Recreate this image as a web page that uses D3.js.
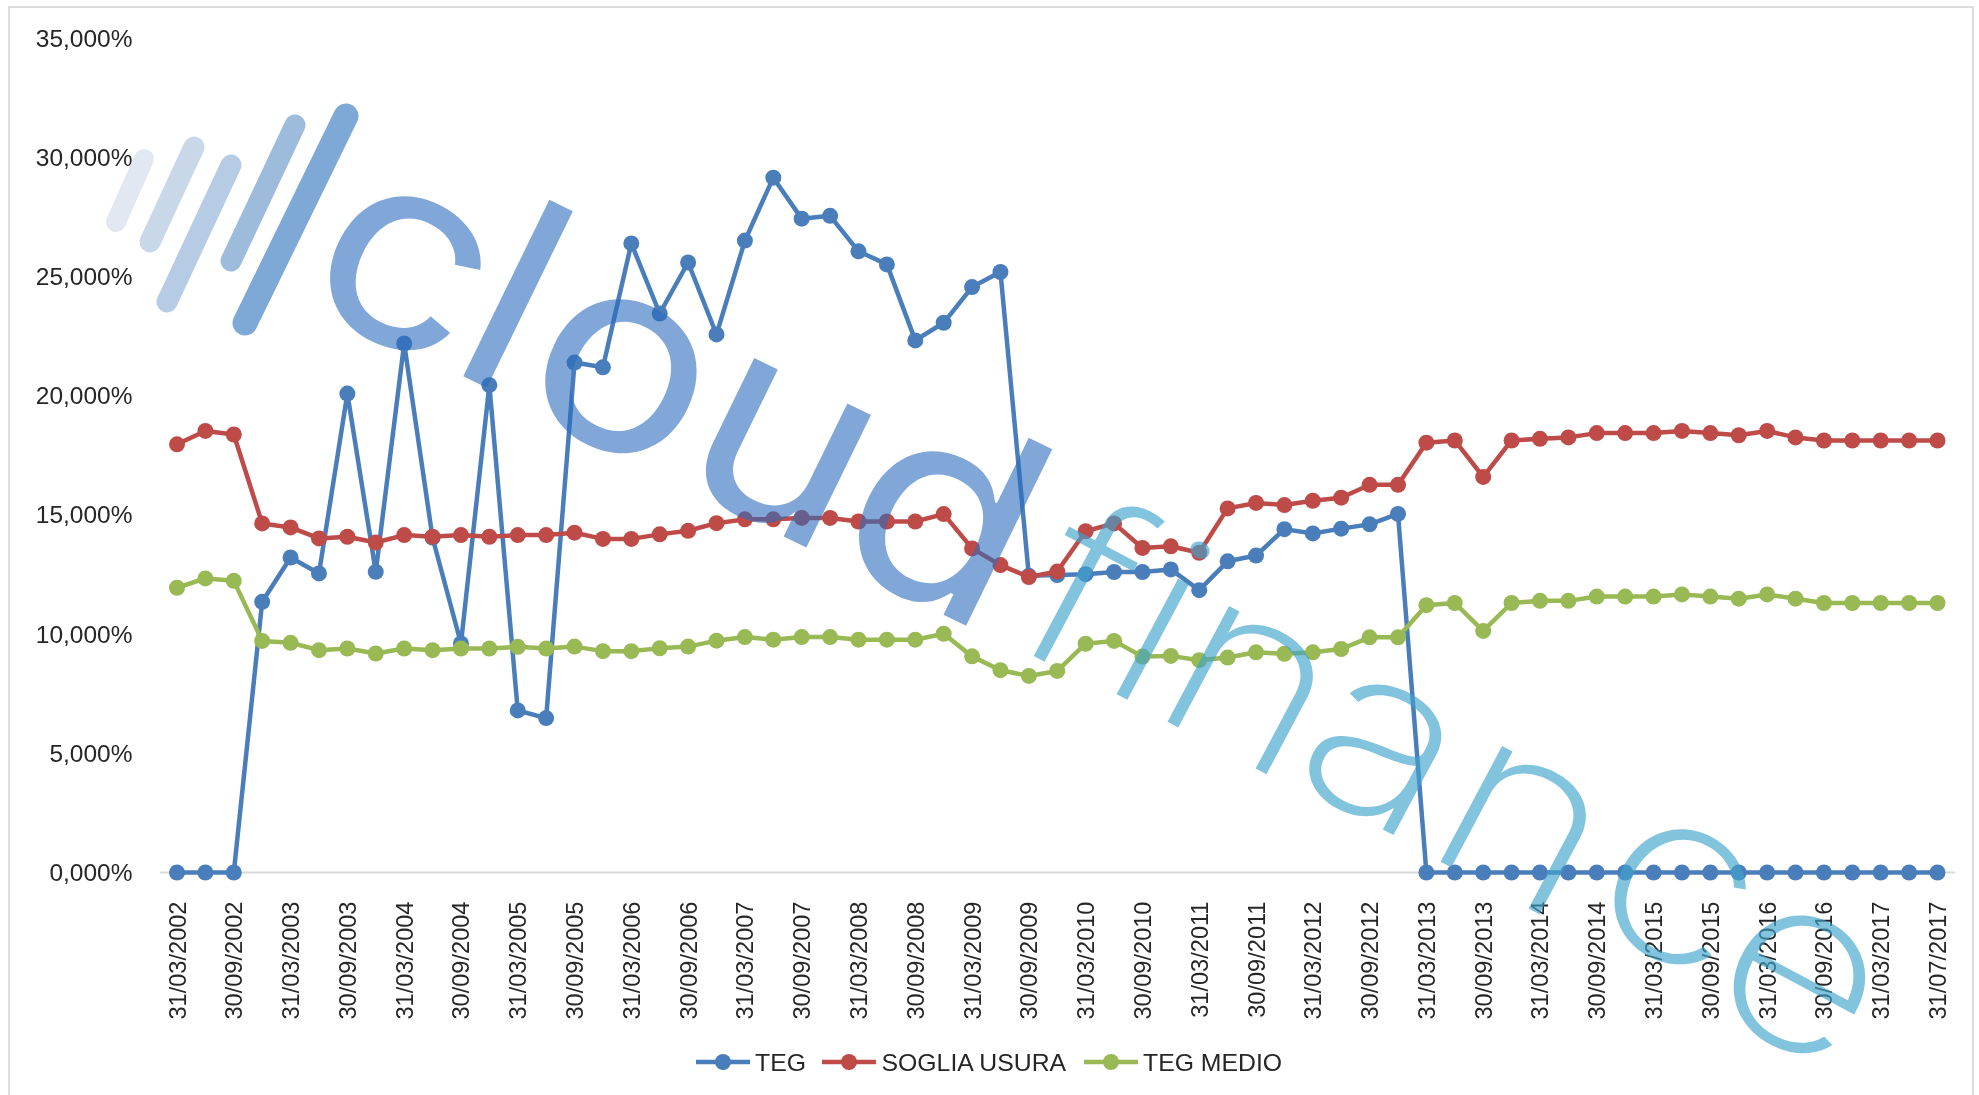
<!DOCTYPE html>
<html>
<head>
<meta charset="utf-8">
<script src="https://cdn.jsdelivr.net/npm/d3@7"></script>
<style>
  html, body { margin: 0; padding: 0; background: #fff; }
  /* the source is an upscaled screenshot, so everything is a little soft */
  svg { display: block; filter: blur(0.6px); }
  text { font-family: "Liberation Sans", Arial, sans-serif; }
</style>
</head>
<body>
<svg id="chart" width="1979" height="1095"></svg>
<script>
const categories = [
  '31/03/2002','30/06/2002','30/09/2002','31/12/2002',
  '31/03/2003','30/06/2003','30/09/2003','31/12/2003',
  '31/03/2004','30/06/2004','30/09/2004','31/12/2004',
  '31/03/2005','30/06/2005','30/09/2005','31/12/2005',
  '31/03/2006','30/06/2006','30/09/2006','31/12/2006',
  '31/03/2007','30/06/2007','30/09/2007','31/12/2007',
  '31/03/2008','30/06/2008','30/09/2008','31/12/2008',
  '31/03/2009','30/06/2009','30/09/2009','31/12/2009',
  '31/03/2010','30/06/2010','30/09/2010','31/12/2010',
  '31/03/2011','30/06/2011','30/09/2011','31/12/2011',
  '31/03/2012','30/06/2012','30/09/2012','31/12/2012',
  '31/03/2013','30/06/2013','30/09/2013','31/12/2013',
  '31/03/2014','30/06/2014','30/09/2014','31/12/2014',
  '31/03/2015','30/06/2015','30/09/2015','31/12/2015',
  '31/03/2016','30/06/2016','30/09/2016','31/12/2016',
  '31/03/2017','30/06/2017','31/07/2017'
];

const xTickLabels = categories.filter((_, i) => i % 2 === 0);
const yTicks = [0, 5, 10, 15, 20, 25, 30, 35];

const teg = [
  0, 0, 0, 11.36, 13.22, 12.55, 20.1, 12.62, 22.2, 14.05, 9.61, 20.45, 6.8, 6.48, 21.4, 21.2,
  26.4, 23.46, 25.6, 22.58, 26.52, 29.16, 27.44, 27.56, 26.07, 25.52, 22.33, 23.07, 24.57, 25.2,
  12.45, 12.48, 12.52, 12.61, 12.61, 12.72, 11.85, 13.06, 13.3, 14.41, 14.23, 14.43, 14.61, 15.05,
  0, 0, 0, 0, 0, 0, 0, 0, 0, 0, 0, 0, 0, 0, 0, 0, 0, 0, 0
];

const sogliaUsura = [
  17.97, 18.53, 18.38, 14.65, 14.48, 14.02, 14.09, 13.85, 14.16, 14.09, 14.16, 14.09, 14.16, 14.16, 14.26, 14.0,
  14.0, 14.19, 14.34, 14.66, 14.82, 14.82, 14.88, 14.88, 14.73, 14.73, 14.73, 15.04, 13.6, 12.9,
  12.4, 12.63, 14.32, 14.65, 13.62, 13.69, 13.42, 15.28, 15.51, 15.42, 15.6, 15.73, 16.27, 16.27,
  18.04, 18.13, 16.6, 18.13, 18.2, 18.26, 18.44, 18.44, 18.44, 18.53, 18.44, 18.35, 18.53, 18.26,
  18.13, 18.13, 18.13, 18.13, 18.13
];

const tegMedio = [
  11.95, 12.34, 12.24, 9.72, 9.64, 9.33, 9.4, 9.19, 9.4, 9.33, 9.4, 9.4, 9.47, 9.4, 9.48, 9.29,
  9.29, 9.41, 9.48, 9.73, 9.88, 9.77, 9.88, 9.88, 9.77, 9.77, 9.77, 10.02, 9.07, 8.49,
  8.25, 8.46, 9.6, 9.72, 9.06, 9.09, 8.91, 9.02, 9.24, 9.18, 9.24, 9.38, 9.87, 9.87,
  11.22, 11.31, 10.14, 11.31, 11.4, 11.4, 11.58, 11.58, 11.58, 11.67, 11.58, 11.49, 11.67, 11.49,
  11.31, 11.31, 11.31, 11.31, 11.31
];

const seriesNames = ['TEG', 'SOGLIA USURA', 'TEG MEDIO'];
const seriesValues = [teg, sogliaUsura, tegMedio];
const seriesColors = ['#4a7ebb', '#be4b48', '#98b954'];

const svg = d3.select('#chart');

// outer chart frame, open at the bottom
svg.append('path')
  .attr('d', 'M9,1095V7H1973V1095')
  .attr('fill', 'none')
  .attr('stroke', '#dcdcdc')
  .attr('stroke-width', 2);

const x = d3.scalePoint().domain(categories).range([177, 1937.5]);
const y = d3.scaleLinear().domain([0, 35]).range([872.5, 38.5]);

const percent = (d) => d3.format('.3f')(d).replace('.', ',') + '%';

const yAxis = svg.append('g')
  .attr('transform', 'translate(160,0)')
  .call(d3.axisLeft(y).tickValues(yTicks).tickFormat(percent).tickSize(0).tickPadding(27.5));
yAxis.select('.domain').remove();
yAxis.selectAll('text')
  .style('font-family', '"Liberation Sans", Arial, sans-serif')
  .style('font-size', '24.5px')
  .attr('fill', '#262626');

const xAxis = svg.append('g')
  .attr('transform', 'translate(0,872.5)')
  .call(d3.axisBottom(x).tickValues(xTickLabels).tickSize(0));
xAxis.select('.domain')
  .attr('d', 'M160,0H1955')
  .attr('stroke', '#d9d9d9')
  .attr('stroke-width', 2);
xAxis.selectAll('text')
  .style('font-family', '"Liberation Sans", Arial, sans-serif')
  .style('font-size', '23.6px')
  .attr('fill', '#262626')
  .attr('text-anchor', 'end')
  .attr('dominant-baseline', 'central')
  .attr('dy', 0)
  .attr('transform', 'translate(0,29) rotate(-90)')
  .attr('x', 0)
  .attr('y', 0);

const line = d3.line()
  .x((_, i) => x(categories[i]))
  .y((d) => y(d));

const seriesGroups = svg.selectAll('.series')
  .data(seriesValues)
  .join('g')
  .attr('class', 'series');

seriesGroups.append('path')
  .attr('d', (d) => line(d))
  .attr('fill', 'none')
  .attr('stroke', (_, i) => seriesColors[i])
  .attr('stroke-width', 4.5)
  .attr('stroke-linejoin', 'round');

seriesGroups.selectAll('circle')
  .data((d) => d)
  .join('circle')
  .attr('cx', (_, i) => x(categories[i]))
  .attr('cy', (d) => y(d))
  .attr('r', 8)
  .attr('fill', function () {
    return seriesColors[seriesValues.indexOf(d3.select(this.parentNode).datum())];
  });

// legend
const legendX = [[696, 755], [822, 881.5], [1084, 1143]];
const legend = svg.selectAll('.legend')
  .data(seriesNames)
  .join('g')
  .attr('class', 'legend')
  .attr('transform', (_, i) => `translate(${legendX[i][0]},1062)`);
legend.append('line')
  .attr('x2', 54)
  .attr('stroke', (_, i) => seriesColors[i])
  .attr('stroke-width', 4.5);
legend.append('circle')
  .attr('cx', 27)
  .attr('r', 8)
  .attr('fill', (_, i) => seriesColors[i]);
legend.append('text')
  .attr('x', (_, i) => legendX[i][1] - legendX[i][0])
  .attr('dominant-baseline', 'central')
  .attr('font-size', 24.8)
  .attr('fill', '#262626')
  .text((d) => d);

// watermark sits over the chart, the lines show through it
const logo = svg.append('g').attr('class', 'watermark');

const logoBars = [
  [144, 159, 116, 222, '#e2e8f1', 20],
  [194, 147, 150, 242, '#c9d8e8', 21],
  [231, 165, 167, 302, '#b5cce4', 21],
  [295, 125, 231, 261, '#9dbbdb', 21],
  [346, 116, 245, 323, '#7ea8d6', 25]
];
logo.selectAll('line')
  .data(logoBars)
  .join('line')
  .attr('x1', (d) => d[0])
  .attr('y1', (d) => d[1])
  .attr('x2', (d) => d[2])
  .attr('y2', (d) => d[3])
  .attr('stroke', (d) => d[4])
  .attr('stroke-width', (d) => d[5])
  .attr('stroke-linecap', 'round');

const cloudLetters = [['c', 370, 337], ['l', 475, 382], ['o', 589, 442], ['u', 748, 519], ['d', 905, 596]];
const financeLetters = [
  ['f', 1045, 662], ['i', 1122, 697], ['n', 1217, 748], ['a', 1350, 812],
  ['n', 1490, 888], ['c', 1645, 952], ['e', 1768, 1040]
];

logo.selectAll('.cloud')
  .data(cloudLetters)
  .join('text')
  .attr('class', 'cloud')
  .attr('transform', (d) => `translate(${d[1]},${d[2]}) rotate(26) scale(1.1,1)`)
  .attr('text-anchor', 'middle')
  .style('font-family', 'Inter')
  .style('font-weight', 400)
  .style('font-size', '270px')
  .attr('fill', '#2b6cbe')
  .attr('fill-opacity', 0.6)
  .text((d) => d[0]);

logo.selectAll('.finance')
  .data(financeLetters)
  .join('text')
  .attr('class', 'finance')
  .attr('transform', (d) => `translate(${d[1]},${d[2]}) rotate(28) scale(1.15,1)`)
  .attr('text-anchor', 'middle')
  .style('font-family', 'Inter')
  .style('font-weight', 200)
  .style('font-size', '240px')
  .attr('fill', '#3fa3cc')
  .attr('fill-opacity', 0.65)
  .text((d) => d[0]);
</script>
</body>
</html>
